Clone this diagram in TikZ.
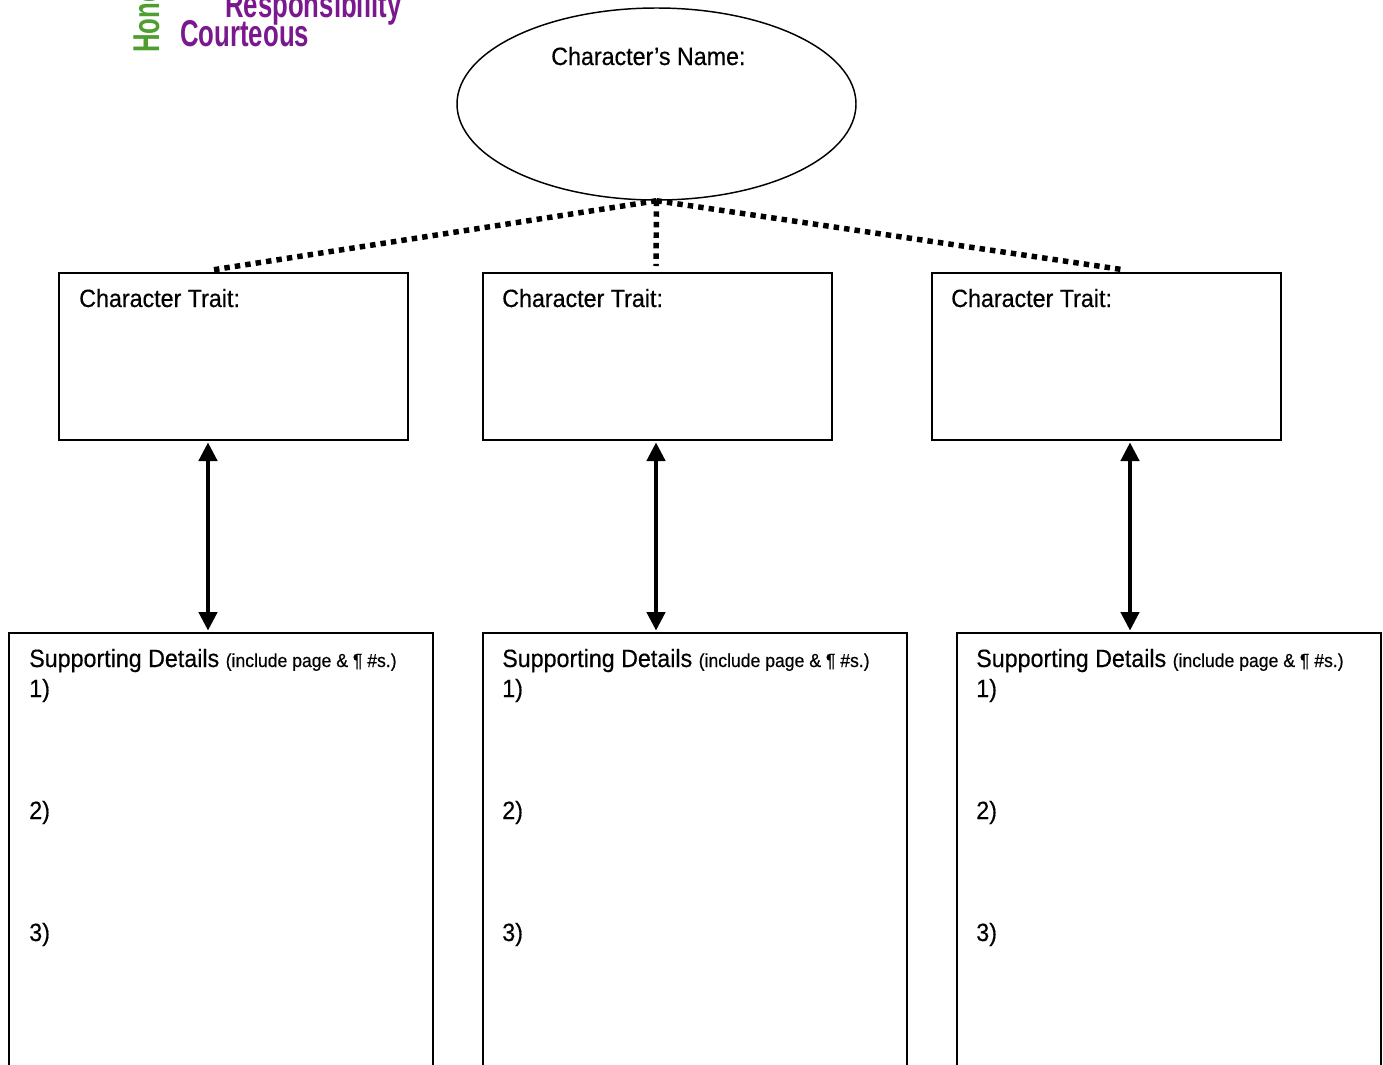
\documentclass[tikz,border=0pt]{standalone}
\usepackage{fontspec}
\setmainfont[FakeStretch=0.93,FakeBold=0.4]{Liberation Sans}
\newfontfamily\logofont[FakeStretch=0.69]{Liberation Sans Bold}
\usetikzlibrary{shapes.geometric,arrows.meta,calc}
\definecolor{logopurple}{RGB}{122,24,142}
\definecolor{logogreen}{RGB}{78,158,48}
\begin{document}
\begin{tikzpicture}[x=0.75pt,y=-0.75pt,
  box/.style={draw,line width=1.5pt,rectangle,inner sep=0pt,anchor=north west,
    minimum width=349*0.75pt,minimum height=167*0.75pt},
  detbox/.style={draw,line width=1.5pt,rectangle,inner sep=0pt,anchor=north west,
    minimum width=424*0.75pt,minimum height=450*0.75pt},
  lbl/.style={anchor=base west,inner sep=0pt,font=\fontsize{18.75pt}{22pt}\selectfont},
  dots/.style={line width=4.1pt,dash pattern=on 4.1pt off 3.8pt},
  arr/.style={line width=3.3pt,{Triangle[length=14pt,width=13.5pt]}-{Triangle[length=14pt,width=13.5pt]},shorten <=1pt,shorten >=1pt},
  logo/.style={anchor=base west,inner sep=0pt,font=\logofont\fontsize{28pt}{30pt}\selectfont}
]
\useasboundingbox (0,0) rectangle (1383,1064);
\clip (0,0) rectangle (1383,1064);

% logo
\node[logo,text=logopurple] (resp) at (225,17) {Responsibility};
\node[logo,text=logopurple] (court) at (180,46) {Courteous};
\node[logo,text=logogreen,rotate=90] (hon) at (159,53) {Hone};

% ellipse
\node[draw,ellipse,line width=1.1pt,minimum width=399*0.75pt,minimum height=192*0.75pt,inner sep=0pt] (name) at (656.5,104) {};
\node[lbl] (namelbl) at (551,65) {Character’s Name:};

% trait boxes
\node[box] (t1) at (58,272) {};
\node[box] (t2) at (482,272) {};
\node[box] (t3) at (931,272) {};
\node[lbl] (t1lbl) at (79,307) {Character Trait:};
\node[lbl] (t2lbl) at (502,307) {Character Trait:};
\node[lbl] (t3lbl) at (951,307) {Character Trait:};

% detail boxes
\node[detbox] (d1) at (8,632) {};
\node[detbox] (d2) at (482,632) {};
\node[detbox] (d3) at (956,632) {};
\foreach \i/\x in {1/29,2/502,3/976}{
  \node[lbl] (s\i) at (\x,667) {Supporting Details {\fontsize{14.2pt}{16pt}\selectfont(include page \& ¶ \#s.)}};
  \node[lbl] (n1\i) at (\x,697) {1)};
  \node[lbl] (n2\i) at (\x,819) {2)};
  \node[lbl] (n3\i) at (\x,941) {3)};
}

% dotted connectors
\coordinate (c1) at (212,270);
\coordinate (c3) at (1125,270);
\coordinate (c2) at (656,266);
\draw[dots] (name.south) -- (c1);
\draw[dots] (name.south) -- (c2);
\draw[dots] (name.south) -- (c3);

% arrows
\coordinate (a1) at (208,0);
\coordinate (a2) at (656,0);
\coordinate (a3) at (1130,0);
\draw[arr] (a1 |- t1.south) -- (a1 |- d1.north);
\draw[arr] (a2 |- t2.south) -- (a2 |- d2.north);
\draw[arr] (a3 |- t3.south) -- (a3 |- d3.north);
\end{tikzpicture}
\end{document}
